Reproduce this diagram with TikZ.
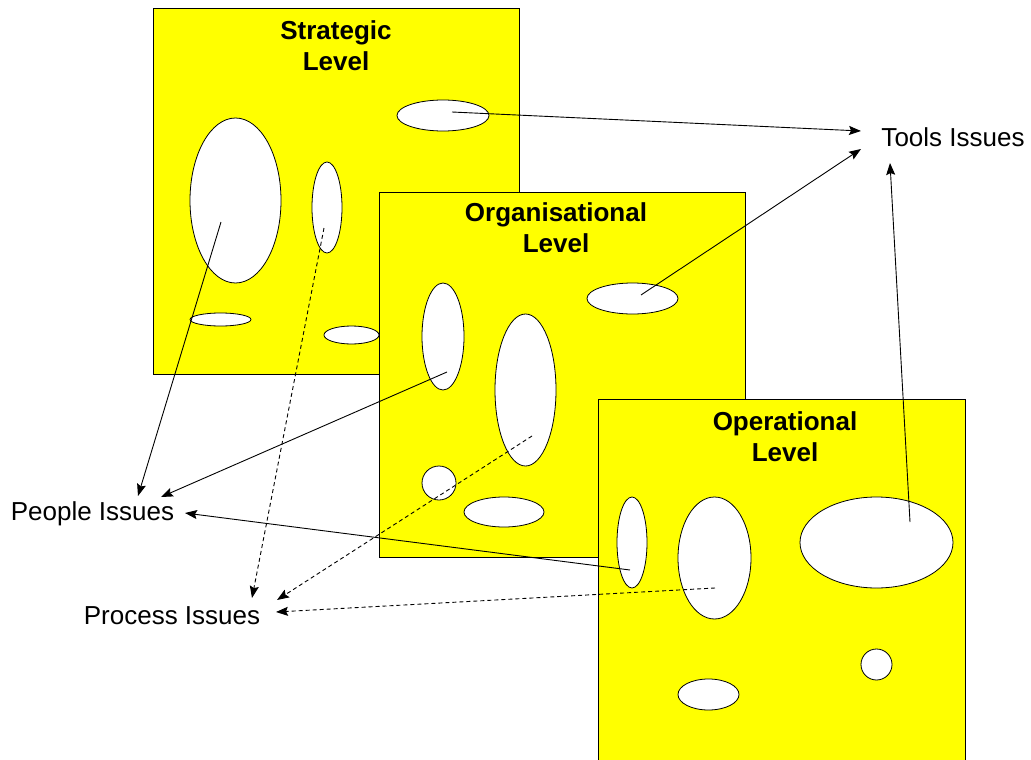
\documentclass[tikz,border=0pt]{standalone}
\usepackage{fontspec}
\setmainfont{Liberation Sans}
\usetikzlibrary{shapes.geometric,arrows.meta}
\definecolor{cheese}{RGB}{255,255,0}
\begin{document}
\begin{tikzpicture}[x=1pt,y=-1pt,
  level/.style={draw=black, line width=0.8pt, fill=cheese, rectangle, inner sep=0pt, anchor=north west},
  hole/.style={ellipse, draw=black, line width=0.8pt, fill=white, inner sep=0pt},
  title/.style={font=\bfseries\fontsize{26}{30.5}\selectfont, align=center, anchor=north, inner sep=0pt},
  lbl/.style={font=\fontsize{26}{30}\selectfont, inner sep=0pt, anchor=base},
  conn/.style={line width=0.9pt, -{Stealth[length=12pt,width=9pt,inset=2pt]}},
  dconn/.style={conn, dash pattern=on 4pt off 3pt}]
\clip (0,0) rectangle (1031,760);
\fill[white] (0,0) rectangle (1031,760);
% Strategic level
\node[level, minimum width=366pt, minimum height=366pt] (strat) at (153,8) {};
\node[title] (stratT) at (336,20.5) {Strategic\\Level};
\node[hole, minimum width=92pt, minimum height=31pt] (s1) at (443,115.5) {};
\node[hole, minimum width=91pt, minimum height=165pt] (s2) at (235.5,200.5) {};
\node[hole, minimum width=30pt, minimum height=91pt] (s3) at (327,207.5) {};
\node[hole, minimum width=61pt, minimum height=13pt] (s4) at (220.5,319.5) {};
\node[hole, minimum width=55pt, minimum height=18pt] (s5) at (351.5,335) {};
% Organisational level
\node[level, minimum width=366pt, minimum height=365pt] (org) at (379,192) {};
\node[title] (orgT) at (556,202.5) {Organisational\\Level};
\node[hole, minimum width=91pt, minimum height=31pt] (o1) at (632.5,298.5) {};
\node[hole, minimum width=42pt, minimum height=107pt] (o2) at (443,336.5) {};
\node[hole, minimum width=61pt, minimum height=152pt] (o3) at (525.5,390) {};
\node[hole, minimum width=34pt, minimum height=34pt] (o4) at (439,483) {};
\node[hole, minimum width=80pt, minimum height=30pt] (o5) at (504,512) {};
% Operational level
\node[level, minimum width=367pt, minimum height=380pt] (oper) at (598,399) {};
\node[title] (operT) at (785,411.5) {Operational\\Level};
\node[hole, minimum width=30pt, minimum height=91pt] (p1) at (632,542.5) {};
\node[hole, minimum width=73pt, minimum height=122pt] (p2) at (714.5,558) {};
\node[hole, minimum width=153pt, minimum height=91pt] (p3) at (876.5,542.5) {};
\node[hole, minimum width=31pt, minimum height=31pt] (p4) at (876.5,664.5) {};
\node[hole, minimum width=61pt, minimum height=31pt] (p5) at (708.5,694.5) {};
% Issue labels
\node[lbl] (tools) at (953,146) {Tools Issues};
\node[lbl] (people) at (92.5,520) {People Issues};
\node[lbl] (process) at (172,624) {Process Issues};
% connector end points
\coordinate (sa) at (452,112);
\coordinate (sb) at (221,222);
\coordinate (sc) at (324,228);
\coordinate (oa) at (641,295);
\coordinate (ob) at (447,372);
\coordinate (oc) at (532,436);
\coordinate (pa) at (630,570);
\coordinate (pb) at (715,588);
\coordinate (pc) at (910,522);
\coordinate (t1) at (861,131);
\coordinate (t2) at (861,149);
\coordinate (t3) at (890,163);
\coordinate (h1) at (138,496);
\coordinate (h2) at (161,497);
\coordinate (h3) at (185,513);
\coordinate (r1) at (252,598);
\coordinate (r2) at (277,600);
\coordinate (r3) at (276,612);
% connectors
\draw[conn] (sa) -- (t1);
\draw[conn] (oa) -- (t2);
\draw[conn] (pc) -- (t3);
\draw[conn] (sb) -- (h1);
\draw[conn] (ob) -- (h2);
\draw[conn] (pa) -- (h3);
\draw[dconn] (sc) -- (r1);
\draw[dconn] (oc) -- (r2);
\draw[dconn] (pb) -- (r3);
\end{tikzpicture}
\end{document}
